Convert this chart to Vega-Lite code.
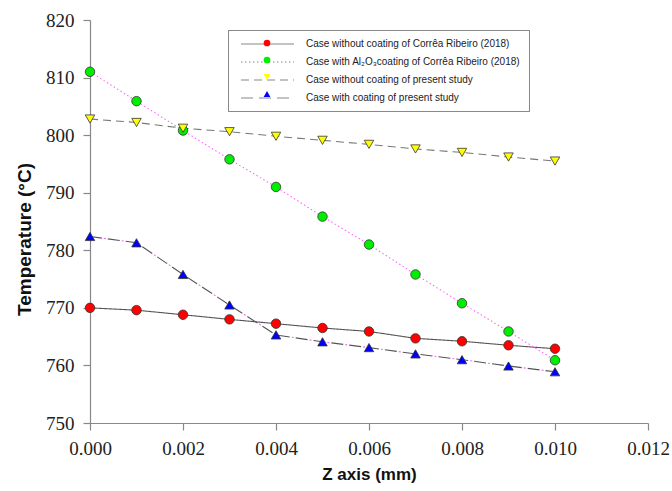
{
  "$schema": "https://vega.github.io/schema/vega-lite/v6.json",
  "width": 558,
  "height": 403,
  "autosize": {"type": "none"},
  "padding": {"left": 90, "top": 20, "right": 24, "bottom": 68},
  "background": "white",
  "config": {
    "view": {"stroke": null},
    "axis": {
      "grid": false,
      "domainColor": "#888",
      "domainWidth": 1.2,
      "tickColor": "#888",
      "tickWidth": 1.2,
      "tickSize": 7,
      "labelFont": "Liberation Serif",
      "labelFontSize": 19,
      "labelColor": "#222",
      "labelFlush": false,
      "titleFont": "Liberation Sans",
      "titleFontWeight": "bold",
      "titleColor": "#111"
    }
  },
  "data": {
    "values": [
      {"z": 0.000, "series": "Case without coating of Corrêa Ribeiro (2018)", "T": 770.0},
      {"z": 0.001, "series": "Case without coating of Corrêa Ribeiro (2018)", "T": 769.6},
      {"z": 0.002, "series": "Case without coating of Corrêa Ribeiro (2018)", "T": 768.8},
      {"z": 0.003, "series": "Case without coating of Corrêa Ribeiro (2018)", "T": 768.0},
      {"z": 0.004, "series": "Case without coating of Corrêa Ribeiro (2018)", "T": 767.25},
      {"z": 0.005, "series": "Case without coating of Corrêa Ribeiro (2018)", "T": 766.5},
      {"z": 0.006, "series": "Case without coating of Corrêa Ribeiro (2018)", "T": 765.9},
      {"z": 0.007, "series": "Case without coating of Corrêa Ribeiro (2018)", "T": 764.7},
      {"z": 0.008, "series": "Case without coating of Corrêa Ribeiro (2018)", "T": 764.2},
      {"z": 0.009, "series": "Case without coating of Corrêa Ribeiro (2018)", "T": 763.5},
      {"z": 0.010, "series": "Case without coating of Corrêa Ribeiro (2018)", "T": 762.9},
      {"z": 0.000, "series": "Case with Al₂O₃coating of Corrêa Ribeiro (2018)", "T": 811.0},
      {"z": 0.001, "series": "Case with Al₂O₃coating of Corrêa Ribeiro (2018)", "T": 805.9},
      {"z": 0.002, "series": "Case with Al₂O₃coating of Corrêa Ribeiro (2018)", "T": 800.8},
      {"z": 0.003, "series": "Case with Al₂O₃coating of Corrêa Ribeiro (2018)", "T": 795.8},
      {"z": 0.004, "series": "Case with Al₂O₃coating of Corrêa Ribeiro (2018)", "T": 791.0},
      {"z": 0.005, "series": "Case with Al₂O₃coating of Corrêa Ribeiro (2018)", "T": 785.85},
      {"z": 0.006, "series": "Case with Al₂O₃coating of Corrêa Ribeiro (2018)", "T": 781.0},
      {"z": 0.007, "series": "Case with Al₂O₃coating of Corrêa Ribeiro (2018)", "T": 775.8},
      {"z": 0.008, "series": "Case with Al₂O₃coating of Corrêa Ribeiro (2018)", "T": 770.8},
      {"z": 0.009, "series": "Case with Al₂O₃coating of Corrêa Ribeiro (2018)", "T": 765.9},
      {"z": 0.010, "series": "Case with Al₂O₃coating of Corrêa Ribeiro (2018)", "T": 760.9},
      {"z": 0.000, "series": "Case without coating of present study", "T": 802.8},
      {"z": 0.001, "series": "Case without coating of present study", "T": 802.2},
      {"z": 0.002, "series": "Case without coating of present study", "T": 801.2},
      {"z": 0.003, "series": "Case without coating of present study", "T": 800.6},
      {"z": 0.004, "series": "Case without coating of present study", "T": 799.8},
      {"z": 0.005, "series": "Case without coating of present study", "T": 799.1},
      {"z": 0.006, "series": "Case without coating of present study", "T": 798.4},
      {"z": 0.007, "series": "Case without coating of present study", "T": 797.6},
      {"z": 0.008, "series": "Case without coating of present study", "T": 797.0},
      {"z": 0.009, "series": "Case without coating of present study", "T": 796.2},
      {"z": 0.010, "series": "Case without coating of present study", "T": 795.5},
      {"z": 0.000, "series": "Case with coating of present study", "T": 782.4},
      {"z": 0.001, "series": "Case with coating of present study", "T": 781.3},
      {"z": 0.002, "series": "Case with coating of present study", "T": 775.8},
      {"z": 0.003, "series": "Case with coating of present study", "T": 770.5},
      {"z": 0.004, "series": "Case with coating of present study", "T": 765.3},
      {"z": 0.005, "series": "Case with coating of present study", "T": 764.1},
      {"z": 0.006, "series": "Case with coating of present study", "T": 763.1},
      {"z": 0.007, "series": "Case with coating of present study", "T": 762.0},
      {"z": 0.008, "series": "Case with coating of present study", "T": 761.0},
      {"z": 0.009, "series": "Case with coating of present study", "T": 759.9},
      {"z": 0.010, "series": "Case with coating of present study", "T": 758.9}
    ]
  },
  "encoding": {
    "x": {
      "field": "z", "type": "quantitative",
      "scale": {"domain": [0, 0.012], "nice": false, "zero": false},
      "axis": {"values": [0, 0.002, 0.004, 0.006, 0.008, 0.010, 0.012], "format": ".3f", "labelFont": "Liberation Serif", "labelFlush": false, "labelPadding": 9, "title": "Z axis (mm)", "titleFontSize": 17, "titlePadding": 8}
    },
    "y": {
      "field": "T", "type": "quantitative",
      "scale": {"domain": [750, 820], "nice": false, "zero": false},
      "axis": {"values": [750, 760, 770, 780, 790, 800, 810, 820], "labelFont": "Liberation Serif", "labelFlush": false, "labelPadding": 9, "title": "Temperature (°C)", "titleFontSize": 19, "titlePadding": 11, "titleY": 219}
    }
  },
  "layer": [
    {
      "mark": {"type": "line", "strokeWidth": 1.1},
      "encoding": {
        "stroke": {
          "field": "series", "type": "nominal",
          "sort": ["Case without coating of Corrêa Ribeiro (2018)", "Case with Al₂O₃coating of Corrêa Ribeiro (2018)", "Case without coating of present study", "Case with coating of present study"],
          "scale": {"range": ["#555555", "#ff66ff", "#777777", "#555555"]},
          "legend": {
            "orient": "none", "legendX": 138, "legendY": 10, "title": null,
            "symbolType": "M-0.2,0H10.4", "symbolSize": 100, "symbolStrokeWidth": 1.1,
            "labelFont": "Liberation Sans", "labelFontSize": 10, "labelColor": "#222", "labelOffset": 58, "labelLimit": 400,
            "padding": 8, "strokeColor": "#888", "fillColor": "white", "rowPadding": 7, "zindex": 1
          }
        },
        "strokeDash": {
          "field": "series", "type": "nominal",
          "sort": ["Case without coating of Corrêa Ribeiro (2018)", "Case with Al₂O₃coating of Corrêa Ribeiro (2018)", "Case without coating of present study", "Case with coating of present study"],
          "scale": {"range": [[1, 0], [1.5, 2.5], [8, 5], [12, 6]]},
          "legend": {
            "orient": "none", "legendX": 138, "legendY": 10, "title": null,
            "symbolType": "M-0.2,0H10.4", "symbolSize": 100, "symbolStrokeWidth": 1.1,
            "labelFont": "Liberation Sans", "labelFontSize": 10, "labelColor": "#222", "labelOffset": 58, "labelLimit": 400,
            "padding": 8, "strokeColor": "#888", "fillColor": "white", "rowPadding": 7, "zindex": 1
          }
        }
      }
    },
    {
      "transform": [{"filter": "datum.series === 'Case with coating of present study'"}],
      "mark": {"type": "line", "strokeWidth": 1.1, "color": "#ff66ff", "strokeDash": [2, 16], "strokeDashOffset": 4},
      "encoding": {}
    },
    {
      "mark": {"type": "point", "filled": true, "size": 90, "stroke": "#333", "strokeWidth": 0.8, "opacity": 1},
      "encoding": {
        "fill": {
          "field": "series", "type": "nominal",
          "scale": {
            "domain": ["Case without coating of Corrêa Ribeiro (2018)", "Case with Al₂O₃coating of Corrêa Ribeiro (2018)", "Case without coating of present study", "Case with coating of present study"],
            "range": ["#ff0000", "#00ee00", "#ffff00", "#0000ff"]
          },
          "legend": {
            "orient": "none", "legendX": 172, "legendY": 18, "title": null,
            "symbolSize": 45, "symbolStrokeColor": "#333", "symbolStrokeWidth": 0.8,
            "labelFont": "Liberation Sans", "labelFontSize": 10, "labelOpacity": 0, "labelExpr": "' '", "labelLimit": 400,
            "padding": 0, "rowPadding": 7, "zindex": 2
          }
        },
        "shape": {
          "field": "series", "type": "nominal",
          "scale": {
            "domain": ["Case without coating of Corrêa Ribeiro (2018)", "Case with Al₂O₃coating of Corrêa Ribeiro (2018)", "Case without coating of present study", "Case with coating of present study"],
            "range": ["circle", "circle", "triangle-down", "triangle-up"]
          },
          "legend": {
            "orient": "none", "legendX": 172, "legendY": 18, "title": null,
            "symbolSize": 45, "symbolStrokeColor": "#333", "symbolStrokeWidth": 0.8,
            "labelFont": "Liberation Sans", "labelFontSize": 10, "labelOpacity": 0, "labelExpr": "' '", "labelLimit": 400,
            "padding": 0, "rowPadding": 7, "zindex": 2
          }
        }
      }
    }
  ]
}
